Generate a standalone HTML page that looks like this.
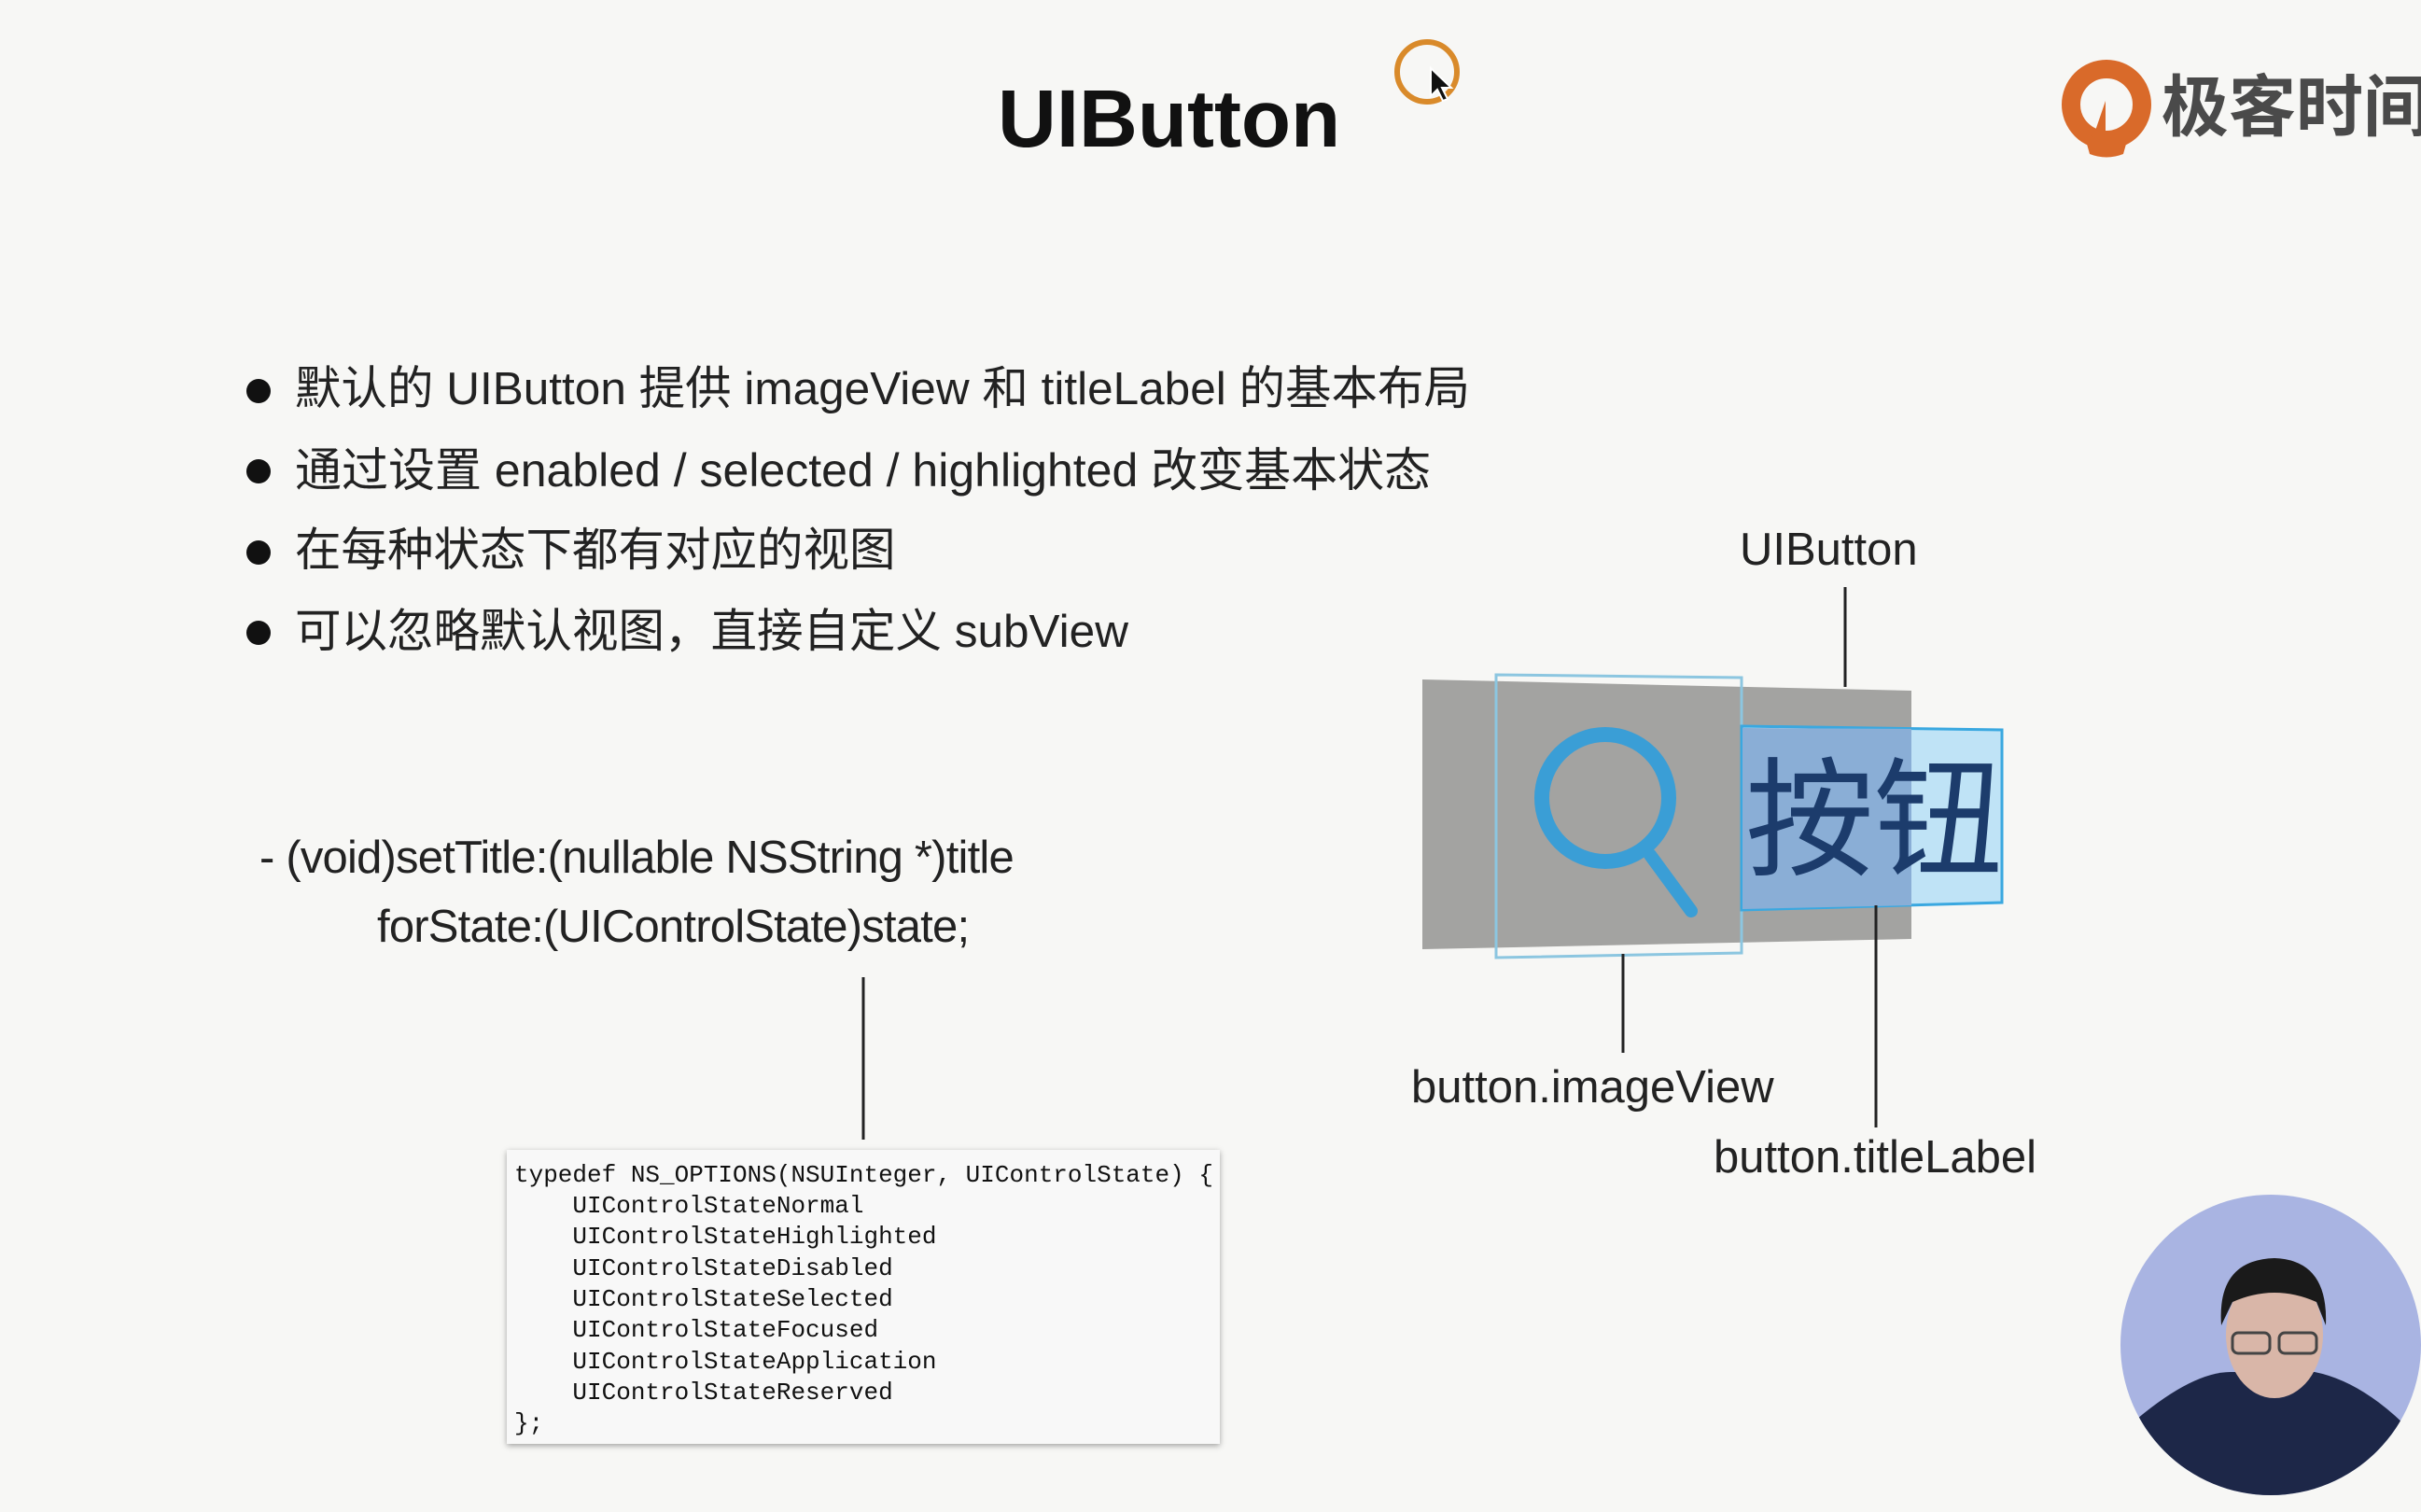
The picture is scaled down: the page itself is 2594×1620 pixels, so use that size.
<!DOCTYPE html>
<html><head><meta charset="utf-8"><style>
html,body{margin:0;padding:0}
body{width:2594px;height:1620px;background:#f7f7f5;position:relative;overflow:hidden;font-family:"Liberation Sans","Noto Sans CJK SC",sans-serif;color:#222}
.t{position:absolute;white-space:nowrap;line-height:1}
.b{position:absolute;width:26px;height:26px;border-radius:50%;background:#111}
.code{position:absolute;left:543px;top:1232px;width:764px;height:315px;background:#f8f8f8;box-shadow:0 2px 6px rgba(0,0,0,.35);font-family:"Liberation Mono",monospace;font-size:26px;color:#111}
.code div{position:absolute;left:8px;white-space:pre}
</style></head><body>
<div class="t" style="left:1069px;top:84px;font-size:87px;font-weight:bold;color:#111">UIButton</div>
<svg style="position:absolute;left:0;top:0" width="2594" height="1620">
 <circle cx="1529" cy="77" r="32" fill="none" stroke="#d98a2a" stroke-width="6"/>
 <path d="M1533 73 l0 30 l7 -7 l6 12 l5 -2 l-6 -12 l10 0 z" fill="#111" stroke="#fff" stroke-width="2"/>
 <circle cx="2257" cy="112" r="38" fill="none" stroke="#d96a2a" stroke-width="20"/>
 <path d="M2232 140 Q2257 160 2282 140 L2275 165 Q2257 172 2239 165 Z" fill="#d96a2a"/>
 <path d="M2256 108 L2256 150 L2245 140 Z" fill="#d96a2a"/>
 <polygon points="1524,728 2048,740 2048,1006 1524,1017" fill="#a3a3a1"/>
 <polygon points="1603,723 1866,726 1866,1021 1603,1026" fill="none" stroke="#8cc6e0" stroke-width="3"/>
 <circle cx="1720" cy="855" r="68" fill="none" stroke="#3a9ed6" stroke-width="16"/>
 <line x1="1768" y1="916" x2="1812" y2="976" stroke="#3a9ed6" stroke-width="14" stroke-linecap="round"/>
 <polygon points="1866,778 2145,782 2145,967 1866,975" fill="#bfe3f6" stroke="#3aa8e0" stroke-width="3"/>
 <polygon points="1867,780 2048,781 2048,970 1867,974" fill="#8aaed6"/>
 <line x1="1977" y1="629" x2="1977" y2="736" stroke="#222" stroke-width="3"/>
 <line x1="1739" y1="1022" x2="1739" y2="1128" stroke="#222" stroke-width="3"/>
 <line x1="2010" y1="970" x2="2010" y2="1208" stroke="#222" stroke-width="3"/>
 <line x1="925" y1="1047" x2="925" y2="1221" stroke="#222" stroke-width="3"/>
 <clipPath id="c"><circle cx="2433" cy="1441" r="161"/></clipPath>
 <g clip-path="url(#c)">
  <rect x="2270" y="1278" width="330" height="330" fill="#a9b4e2"/>
  <path d="M2290 1520 Q2350 1470 2390 1470 L2480 1470 Q2530 1480 2580 1530 L2600 1620 L2270 1620 Z" fill="#1d2748"/>
  <ellipse cx="2437" cy="1430" rx="52" ry="68" fill="#d9b6a8"/>
  <path d="M2380 1420 Q2375 1350 2437 1348 Q2495 1350 2492 1420 L2482 1395 Q2437 1375 2392 1395 Z" fill="#1a1a1a"/>
  <rect x="2392" y="1428" width="40" height="22" rx="6" fill="none" stroke="#444" stroke-width="3"/>
  <rect x="2442" y="1428" width="40" height="22" rx="6" fill="none" stroke="#444" stroke-width="3"/>
 </g>
</svg>
<div class="t" style="left:2316px;top:80px;font-size:72px;font-weight:bold;color:#4a4a4a">极客时间</div>
<div class="t" style="left:1870px;top:798px;font-size:138px;color:#1c3c6c;font-family:'Noto Sans CJK SC',sans-serif">按钮</div>

<div class="b" style="left:264px;top:406px"></div>
<div class="b" style="left:264px;top:492px"></div>
<div class="b" style="left:264px;top:579px"></div>
<div class="b" style="left:264px;top:665px"></div>
<div class="t" style="left:316px;top:392px;font-size:49.5px">默认的 UIButton 提供 imageView 和 titleLabel 的基本布局</div>
<div class="t" style="left:316px;top:479px;font-size:50px">通过设置 enabled / selected / highlighted 改变基本状态</div>
<div class="t" style="left:316px;top:565px;font-size:49.5px">在每种状态下都有对应的视图</div>
<div class="t" style="left:316px;top:652px;font-size:49.5px">可以忽略默认视图，直接自定义 subView</div>

<div class="t" style="left:278px;top:895px;font-size:49px;letter-spacing:-0.8px">- (void)setTitle:(nullable NSString *)title</div>
<div class="t" style="left:404px;top:969px;font-size:49px;letter-spacing:-0.8px">forState:(UIControlState)state;</div>

<div class="t" style="left:1864px;top:565px;font-size:49px">UIButton</div>
<div class="t" style="left:1512px;top:1141px;font-size:49px">button.imageView</div>
<div class="t" style="left:1836px;top:1216px;font-size:49px">button.titleLabel</div>

<div class="code">
<div style="top:12px">typedef NS_OPTIONS(NSUInteger, UIControlState) {</div>
<div style="top:45px">    UIControlStateNormal</div>
<div style="top:78px">    UIControlStateHighlighted</div>
<div style="top:112px">    UIControlStateDisabled</div>
<div style="top:145px">    UIControlStateSelected</div>
<div style="top:178px">    UIControlStateFocused</div>
<div style="top:212px">    UIControlStateApplication</div>
<div style="top:245px">    UIControlStateReserved</div>
<div style="top:278px">};</div>
</div>
</body></html>
